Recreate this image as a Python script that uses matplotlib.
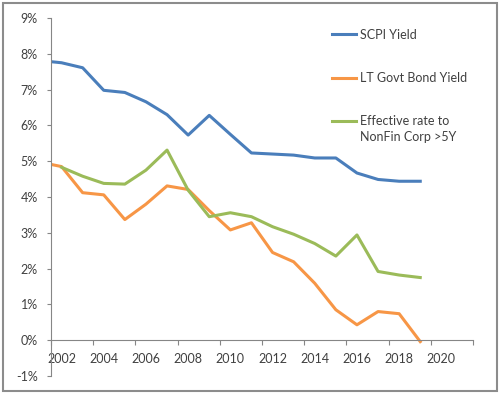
import numpy as np
import matplotlib.pyplot as plt
from matplotlib.patches import Rectangle
from matplotlib.ticker import FuncFormatter

plt.rcParams['font.family'] = ['Lato', 'DejaVu Sans']

# yearly points, the first one sits half a year before 2002
years = [2001.5, 2002, 2003, 2004, 2005, 2006, 2007, 2008, 2009, 2010,
         2011, 2012, 2013, 2014, 2015, 2016, 2017, 2018, 2019]
scpi = [7.78, 7.75, 7.61, 6.98, 6.92, 6.66, 6.30, 5.73, 6.28, 5.75,
        5.23, 5.20, 5.17, 5.09, 5.09, 4.67, 4.49, 4.44, 4.44]
govt = [4.91, 4.85, 4.12, 4.06, 3.37, 3.80, 4.31, 4.21, 3.62, 3.08,
        3.28, 2.45, 2.19, 1.59, 0.85, 0.43, 0.80, 0.74, -0.04]
years_nf = [2002, 2003, 2004, 2005, 2006, 2007, 2008, 2009, 2010,
            2011, 2012, 2013, 2014, 2015, 2016, 2017, 2018, 2019]
nonfin = [4.83, 4.58, 4.38, 4.36, 4.75, 5.31, 4.19, 3.45, 3.56,
          3.45, 3.17, 2.96, 2.70, 2.35, 2.94, 1.92, 1.82, 1.75]

tick_years = [2002, 2004, 2006, 2008, 2010, 2012, 2014, 2016, 2018, 2020]

fig = plt.figure(figsize=(5, 3.94), dpi=100)
ax = fig.add_axes([0.102, 0.0457, 0.844, 0.9086])

ax.plot(years, scpi, color='#4A7EBB', lw=2.2, label='SCPI Yield')
ax.plot(years, govt, color='#F79646', lw=2.2, label='LT Govt Bond Yield')
ax.plot(years_nf, nonfin, color='#9BBB59', lw=2.2,
        label='Effective rate to\nNonFin Corp >5Y')

ax.set_xlim(2001.5, 2021.5)
ax.set_ylim(-1, 9)

gray = '#868686'
ax.spines['top'].set_visible(False)
ax.spines['right'].set_visible(False)
ax.spines['left'].set_color(gray)
ax.spines['bottom'].set_color(gray)
ax.spines['bottom'].set_position(('data', 0))

ax.set_yticks(np.arange(-1, 10, 1))
ax.yaxis.set_major_formatter(FuncFormatter(lambda v, p: '%d%%' % v))
ax.tick_params(axis='y', length=3, color=gray, pad=6.5, labelsize=9,
               labelcolor='#404040')

ax.set_xticks(np.arange(2001.5, 2022, 2))
ax.set_xticklabels([])
ax.set_xticks(tick_years, minor=True)
ax.set_xticklabels([str(y) for y in tick_years], minor=True)
ax.tick_params(axis='x', which='major', length=3.5, color=gray)
ax.tick_params(axis='x', which='minor', length=0, pad=9, labelsize=9,
               labelcolor='#404040')

leg = ax.legend(loc='upper left', bbox_to_anchor=(0.651, 0.9426),
                bbox_transform=fig.transFigure, frameon=False, fontsize=9,
                handlelength=1.95, handletextpad=0.3, labelspacing=2.5,
                borderpad=0)
for t in leg.get_texts():
    t.set_color('#404040')
    t.set_linespacing(1.4)
# excel puts the handle next to the first line of a two-line label
h = leg.legend_handles[2]
h.set_ydata(np.asarray(h.get_ydata()) + 6.3)

fig.patches.append(Rectangle((0.005, 0.008), 0.988, 0.984,
                             transform=fig.transFigure, fill=False,
                             edgecolor='#8c8c8c', lw=1.5))

fig.savefig('out.png', dpi=100)
